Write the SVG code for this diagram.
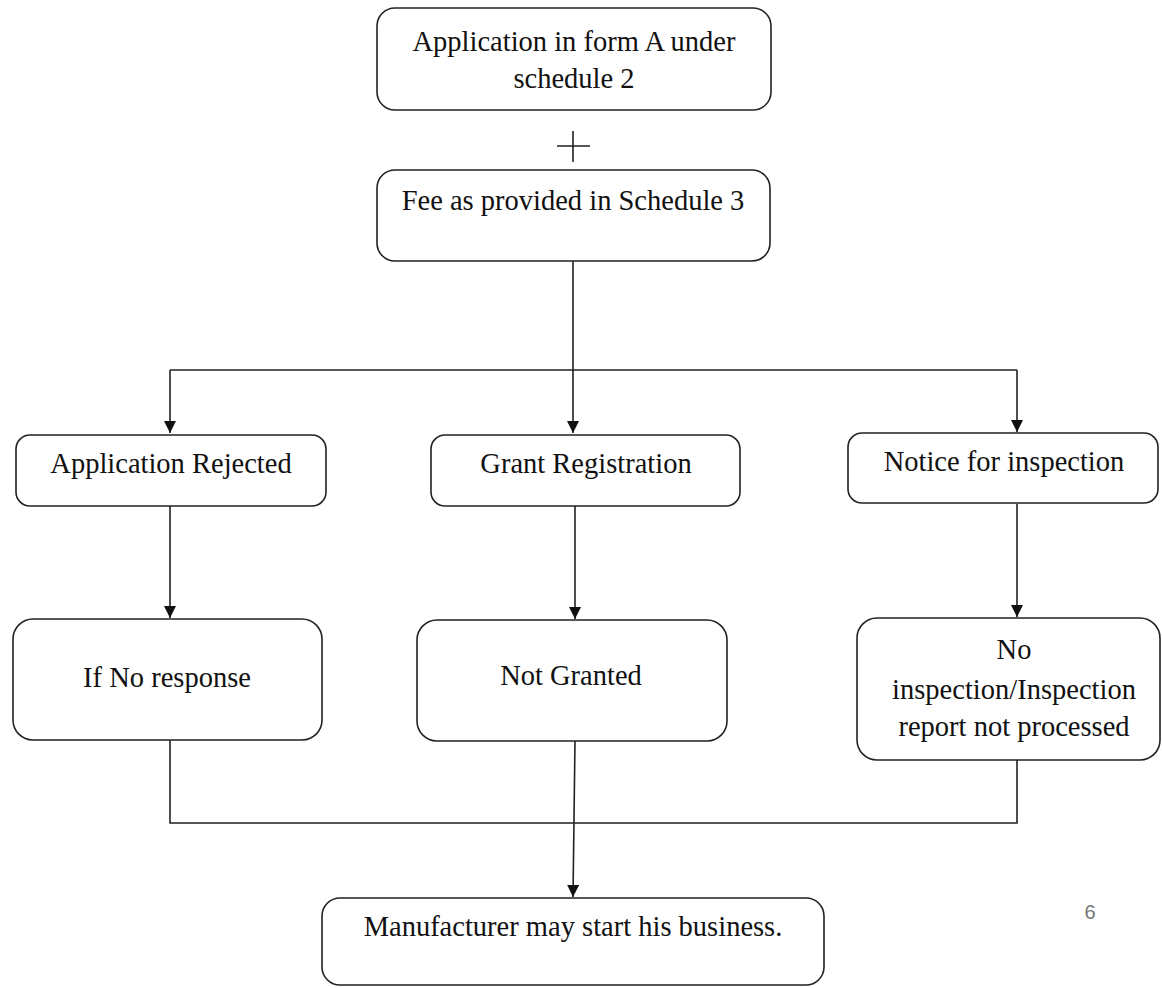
<svg xmlns="http://www.w3.org/2000/svg" width="1162" height="988" viewBox="0 0 1162 988">
<style>
.box{fill:#fff;stroke:#222;stroke-width:1.6}
.t{font-family:"Liberation Serif","Times New Roman",serif;font-size:28.5px;fill:#111;text-anchor:middle}
.ln{fill:none;stroke:#222;stroke-width:1.6}
</style>
<defs>
<marker id="ah" viewBox="0 0 10 10" refX="10" refY="5" markerWidth="12" markerHeight="12" markerUnits="userSpaceOnUse" orient="auto">
<path d="M0,0 L10,5 L0,10 z" fill="#111"/>
</marker>
</defs>
<rect width="1162" height="988" fill="#fff"/>
<g id="connectors">
<path class="ln" d="M557,146 H590 M573,131 V162"/>
<path class="ln" d="M573,261 V433" marker-end="url(#ah)"/>
<path class="ln" d="M170,370 H1017"/>
<path class="ln" d="M170,370 V433" marker-end="url(#ah)"/>
<path class="ln" d="M1017,370 V432" marker-end="url(#ah)"/>
<path class="ln" d="M170,506 V618" marker-end="url(#ah)"/>
<path class="ln" d="M575,506 V619" marker-end="url(#ah)"/>
<path class="ln" d="M1017,504 V617" marker-end="url(#ah)"/>
<path class="ln" d="M170,740 V823 H1017 V760"/>
<path class="ln" d="M575,741 L573,897" marker-end="url(#ah)"/>
</g>
<g id="n1"><rect class="box" x="377" y="8" width="394" height="102" rx="18"/>
<text class="t" x="574" y="51">Application in form A under</text>
<text class="t" x="574" y="88">schedule 2</text></g>
<g id="n2"><rect class="box" x="377" y="170" width="393" height="91" rx="18"/>
<text class="t" x="573" y="210">Fee as provided in Schedule 3</text></g>
<g id="n3"><rect class="box" x="16" y="435" width="310" height="71" rx="14"/>
<text class="t" x="171" y="473">Application Rejected</text></g>
<g id="n4"><rect class="box" x="431" y="435" width="309" height="71" rx="14"/>
<text class="t" x="586" y="473">Grant Registration</text></g>
<g id="n5"><rect class="box" x="848" y="433" width="310" height="70" rx="14"/>
<text class="t" x="1004" y="471">Notice for inspection</text></g>
<g id="n6"><rect class="box" x="13" y="619" width="309" height="121" rx="20"/>
<text class="t" x="167" y="687">If No response</text></g>
<g id="n7"><rect class="box" x="417" y="620" width="310" height="121" rx="20"/>
<text class="t" x="571" y="685">Not Granted</text></g>
<g id="n8"><rect class="box" x="857" y="618" width="303" height="142" rx="20"/>
<text class="t" x="1014" y="659">No</text>
<text class="t" x="1014" y="699">inspection/Inspection</text>
<text class="t" x="1014" y="736">report not processed</text></g>
<g id="n9"><rect class="box" x="322" y="898" width="502" height="87" rx="18"/>
<text class="t" x="573" y="936">Manufacturer may start his business.</text></g>
<text x="1090" y="919" font-family="Liberation Sans, Arial, sans-serif" font-size="20" fill="#777" text-anchor="middle">6</text>
</svg>
